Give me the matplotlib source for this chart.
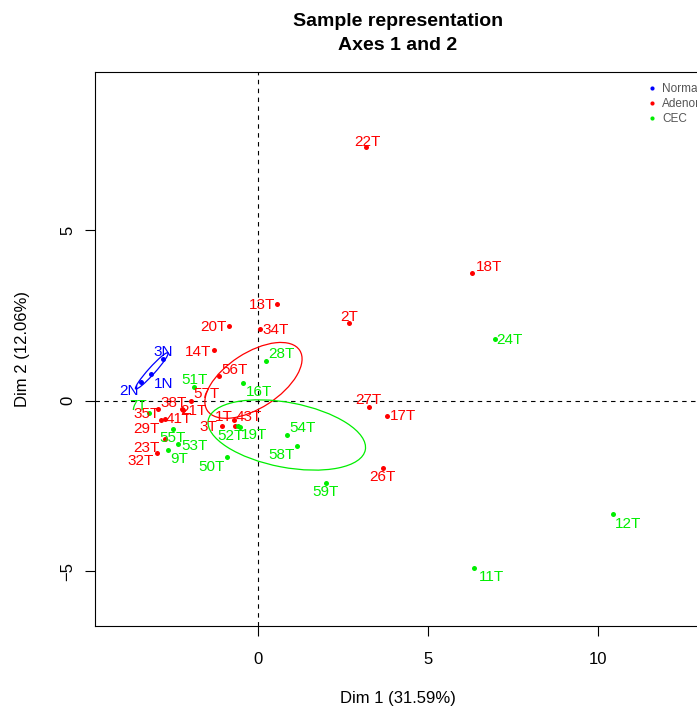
import matplotlib
matplotlib.use("Agg")
import matplotlib.pyplot as plt
from matplotlib.patches import Ellipse
from matplotlib.lines import Line2D

plt.rcParams['font.family'] = ['Liberation Sans', 'DejaVu Sans']

# individual coordinates on Dim 1 / Dim 2, per group
normal_labels = ["3N", "1N", "2N"]
normal_x = [-2.79, -3.14, -3.43]
normal_y = [1.23, 0.77, 0.55]

adeno_labels = ["22T", "18T", "2T", "13T", "34T", "20T", "14T", "56T", "57T", "38T", "21T",
                "35T", "41T", "29T", "23T", "32T", "3T", "1T", "43T", "27T", "17T", "26T"]
adeno_x = [3.18, 6.29, 2.69, 0.57, 0.06, -0.84, -1.29, -1.15, -1.98, -2.21, -2.24,
           -2.93, -2.74, -2.85, -2.74, -2.98, -1.07, -0.70, -0.66, 3.26, 3.81, 3.67]
adeno_y = [7.44, 3.73, 2.26, 2.83, 2.11, 2.19, 1.47, 0.71, -0.01, -0.28, -0.26,
           -0.26, -0.54, -0.57, -1.14, -1.53, -0.74, -0.57, -0.75, -0.20, -0.45, -1.97]

cec_labels = ["24T", "28T", "16T", "51T", "7T", "55T", "53T", "9T", "52T", "19T",
              "54T", "58T", "50T", "59T", "12T", "11T"]
cec_x = [6.97, 0.23, -0.45, -1.87, -3.20, -2.51, -2.34, -2.64, -0.58, -0.53,
         0.87, 1.14, -0.90, 1.99, 10.43, 6.36]
cec_y = [1.81, 1.17, 0.52, 0.40, -0.36, -0.84, -1.28, -1.45, -0.74, -0.77,
         -1.01, -1.33, -1.67, -2.41, -3.33, -4.90]

# confidence ellipses: centre, full axes lengths, angle (deg)
ell_cx = [-3.12, -0.13, 0.85]
ell_cy = [0.87, 0.59, -1.01]
ell_w = [1.42, 3.24, 4.70]
ell_h = [0.20, 1.62, 1.90]
ell_angle = [48, 32.9, -10.7]

groups = ["Normal", "Adenoma", "CEC"]
colors = ["#0000FF", "#FF0000", "#00EE00"]

# label placement around each point (pixels, dx right / dy up)
label_off = {
    "3N": (0, 8), "1N": (13, -8), "2N": (-12, -8),
    "22T": (1, 6), "18T": (17, 8), "2T": (0, 8), "13T": (-15, 0), "34T": (16, 0),
    "20T": (-16, 0), "14T": (-16, 0), "56T": (16, 8), "57T": (16, 8), "38T": (-9, 9),
    "21T": (12, 0), "35T": (-12, -3), "41T": (14, 1), "29T": (-15, -8), "23T": (-18, -7),
    "32T": (-16, -7), "3T": (-13, 0), "1T": (-10, 4), "43T": (13, 11), "27T": (0, 9),
    "17T": (16, 1), "26T": (0, -8),
    "24T": (15, 0), "28T": (16, 8), "16T": (16, -8), "51T": (0, 8), "7T": (-11, 8),
    "55T": (0, -7), "53T": (16, 0), "9T": (11, -8), "52T": (-8, -9), "19T": (14, -7),
    "54T": (15, 8), "58T": (-15, -8), "50T": (-16, -8), "59T": (0, -8), "12T": (16, -8),
    "11T": (17, -8),
}

fig = plt.figure(figsize=(6.97, 7.08), dpi=100)
ax = fig.add_axes([0.1363, 0.1158, 0.8694, 0.7825])

ax.axhline(0, color="black", lw=0.8, ls=(0, (4, 4)), zorder=1)
ax.axvline(0, color="black", lw=0.8, ls=(0, (4, 4)), zorder=1)

series = [(normal_labels, normal_x, normal_y),
          (adeno_labels, adeno_x, adeno_y),
          (cec_labels, cec_x, cec_y)]
for (labs, xs, ys), col in zip(series, colors):
    ax.plot(xs, ys, "o", color=col, ms=3.6, mec="none", zorder=3)
    for lab, x, y in zip(labs, xs, ys):
        ax.annotate(lab, (x, y), xytext=label_off[lab], textcoords="offset pixels",
                    ha="center", va="center_baseline", color=col, fontsize=11, zorder=4)

for i, col in enumerate(colors):
    ax.add_patch(Ellipse((ell_cx[i], ell_cy[i]), ell_w[i], ell_h[i], angle=ell_angle[i],
                         fill=False, edgecolor=col, lw=0.9, zorder=2))

ax.set_xlim(-4.79, 13.03)
ax.set_ylim(-6.61, 9.63)
ax.set_xticks([0, 5, 10])
ax.set_yticks([-5, 0, 5])
ax.tick_params(direction="out", length=7, width=0.8, labelsize=12, pad=12)
ax.tick_params(axis="y", pad=7)
for t in ax.get_yticklabels():
    t.set_rotation(90)
    t.set_va("center")
for sp in ax.spines.values():
    sp.set_linewidth(0.8)

ax.set_xlabel("Dim 1 (31.59%)", fontsize=12, labelpad=17)
ax.set_ylabel("Dim 2 (12.06%)", fontsize=12, labelpad=22)
ax.set_title("Sample representation\nAxes 1 and 2", fontsize=14, fontweight="bold",
             linespacing=1.55, pad=16)

handles = [Line2D([], [], ls="none", marker="o", ms=3, color=c, mec="none") for c in colors]
ax.legend(handles, groups, loc="upper left", bbox_to_anchor=(0.9114, 0.9794),
          frameon=False, fontsize=8.5, labelcolor="#555555", handlelength=0.8,
          handletextpad=0.45, labelspacing=0.23, borderpad=0, borderaxespad=0)

fig.savefig("out.png", dpi=100)
